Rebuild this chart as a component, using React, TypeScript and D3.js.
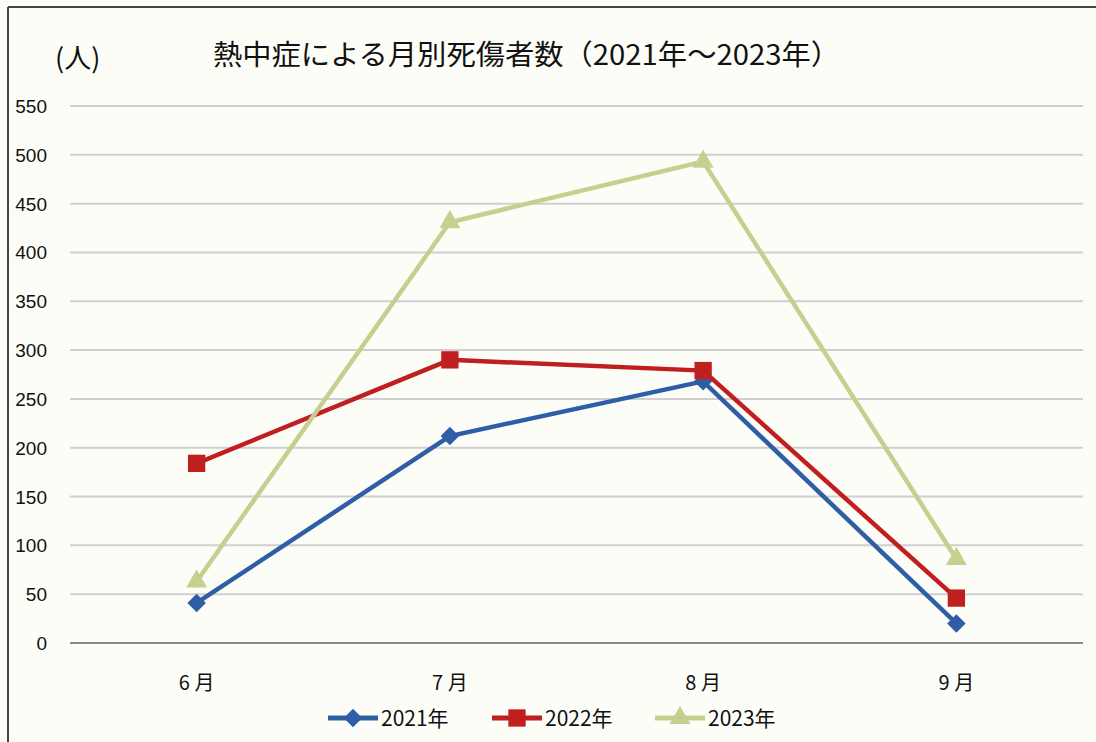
import React from "react";
import * as d3 from "d3";

const months = ["6月", "7月", "8月", "9月"];
const monthLabels = ["6 月", "7 月", "8 月", "9 月"];
const v2021 = [41, 212, 268, 20];
const v2022 = [184, 290, 279, 46];
const v2023 = [63, 431, 493, 86];
const yTicks = [0, 50, 100, 150, 200, 250, 300, 350, 400, 450, 500, 550];

const series = [
  { name: "2021年", values: v2021, color: "#2f5ea6", marker: "diamond" },
  { name: "2022年", values: v2022, color: "#c01f1f", marker: "square" },
  { name: "2023年", values: v2023, color: "#c6cf8e", marker: "triangle" },
];

const W = 1096;
const H = 742;

const x = d3.scaleBand().domain(months).range([70, 1083]);
const y = d3.scaleLinear().domain([0, 550]).range([643, 106]);

const symbolFor = (m: string) => {
  if (m === "diamond") return d3.symbol().type(d3.symbolSquare).size(170);
  if (m === "square") return d3.symbol().type(d3.symbolSquare).size(300);
  return d3.symbol().type(d3.symbolTriangle).size(190);
};

export default function App() {
  const line = d3
    .line<number>()
    .x((_, i) => (x(months[i]) as number) + x.bandwidth() / 2)
    .y((d) => y(d));

  const legendX = [328, 492, 655];

  return (
    <svg
      width={W}
      height={H}
      style={{ position: "absolute", left: 0, top: 0, background: "#fdfdf8" }}
      fontFamily="'Liberation Sans', Arial, sans-serif"
    >
      <rect x={0} y={0} width={W} height={H} fill="#fdfdf8" />
      {/* frame */}
      <line x1={8} y1={7} x2={W} y2={7} stroke="#444" strokeWidth={2} />
      <line x1={8} y1={7} x2={8} y2={H} stroke="#444" strokeWidth={2} />

      <text x={55} y={68} fontSize={27} fontFamily="'Noto Sans CJK JP', sans-serif" fill="#111">
        (人)
      </text>
      <text
        x={213}
        y={65}
        fontSize={28}
        textLength={627}
        lengthAdjust="spacingAndGlyphs"
        fontFamily="'Noto Sans CJK JP', sans-serif"
        fill="#111"
      >
        熱中症による月別死傷者数（2021年～2023年）
      </text>

      {/* grid */}
      {yTicks.map((t) => (
        <g key={t}>
          <line
            x1={70}
            x2={1083}
            y1={y(t)}
            y2={y(t)}
            stroke={t === 0 ? "#8a8a8a" : "#cfcfcf"}
            strokeWidth={2}
          />
          <text x={47} y={y(t) + 7} textAnchor="end" fontSize={19} fill="#111">
            {t}
          </text>
        </g>
      ))}

      {/* x labels */}
      {months.map((m, i) => (
        <text
          key={m}
          x={(x(m) as number) + x.bandwidth() / 2}
          y={690}
          textAnchor="middle"
          fontSize={20}
          fontFamily="'Noto Sans CJK JP', sans-serif"
          fill="#111"
        >
          {monthLabels[i]}
        </text>
      ))}

      {/* series */}
      {series.map((s) => (
        <g key={s.name}>
          <path d={line(s.values) || ""} fill="none" stroke={s.color} strokeWidth={4.5} />
          {s.values.map((v, i) => (
            <path
              key={i}
              transform={`translate(${(x(months[i]) as number) + x.bandwidth() / 2},${y(v)})${
                s.marker === "diamond" ? " rotate(45)" : ""
              }`}
              d={symbolFor(s.marker)() || ""}
              fill={s.color}
            />
          ))}
        </g>
      ))}

      {/* legend */}
      {series.map((s, i) => (
        <g key={s.name} transform={`translate(${legendX[i]},718)`}>
          <line x1={0} x2={50} y1={0} y2={0} stroke={s.color} strokeWidth={5} />
          <path
            transform={`translate(25,0)${s.marker === "diamond" ? " rotate(45)" : ""}`}
            d={symbolFor(s.marker)() || ""}
            fill={s.color}
          />
          <text
            x={53}
            y={8}
            fontSize={21}
            fontFamily="'Noto Sans CJK JP', sans-serif"
            fill="#111"
          >
            {s.name}
          </text>
        </g>
      ))}
    </svg>
  );
}
